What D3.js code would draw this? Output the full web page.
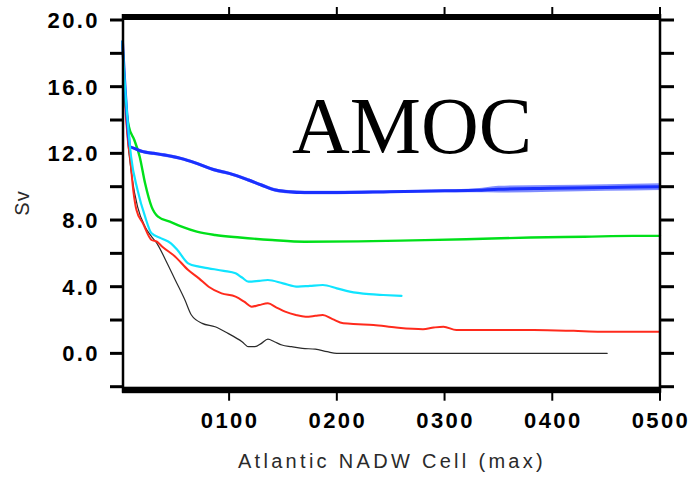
<!DOCTYPE html>
<html>
<head>
	<title>AMOC</title>
	<style>
	body {
	  margin: 0;
	  background: #fff;
	}
	.tick-label {
	  font: bold 22px "Liberation Sans", Arial, sans-serif;
	  letter-spacing: 2.4px;
	  fill: #000;
	}
	.axis-title {
	  font: 20px "Liberation Sans", Arial, sans-serif;
	  letter-spacing: 3.3px;
	  fill: #2a2a2a;
	}
	.line {
	  fill: none;
	  stroke-linejoin: round;
	  stroke-linecap: round;
	}
	</style>
	<script src="https://cdnjs.cloudflare.com/ajax/libs/d3/7.8.5/d3.min.js"></script>
</head>
<body>
	<script>
		// time axis (model years) and tick labels
		var xTicks = [100, 200, 300, 400, 500];
		var yTicks = [0, 4, 8, 12, 16, 20];
		var yMinorTicks = [-2, 2, 6, 10, 14, 18];

		// blue run
		var blueX = [1, 3, 6, 8, 12, 20, 30, 40, 55, 70, 87, 100, 118, 130, 143, 155, 170, 200, 250, 300, 330, 350, 400, 450, 500];
		var blueSv = [18.7, 16.4, 13.6, 12.4, 12.3, 12.1, 12.0, 11.9, 11.7, 11.4, 11.0, 10.8, 10.4, 10.1, 9.8, 9.7, 9.65, 9.65, 9.7, 9.75, 9.78, 9.85, 9.9, 9.95, 10.0];
		var blueSpread = [0, 0, 0, 0.05, 0.08, 0.1, 0.1, 0.1, 0.1, 0.1, 0.1, 0.1, 0.1, 0.1, 0.1, 0.1, 0.1, 0.1, 0.08, 0.08, 0.12, 0.2, 0.2, 0.2, 0.2];

		// green run
		var greenX = [1, 4, 7, 12, 17, 22, 28, 34, 45, 56, 70, 87, 110, 140, 170, 220, 270, 320, 380, 430, 475, 500];
		var greenSv = [18.7, 15.0, 13.6, 12.8, 11.8, 10.2, 8.8, 8.2, 7.9, 7.6, 7.3, 7.1, 6.95, 6.8, 6.7, 6.72, 6.78, 6.85, 6.95, 7.0, 7.05, 7.05];

		// cyan run
		var cyanX = [1, 3, 6, 9, 15, 22, 28, 37, 46, 52, 62, 72, 81, 95, 106, 112, 118, 128, 136, 150, 164, 175, 187, 200, 212, 230, 243, 260];
		var cyanSv = [18.7, 16.4, 13.8, 11.8, 9.8, 8.2, 7.2, 6.9, 6.6, 6.2, 5.4, 5.2, 5.1, 4.95, 4.8, 4.55, 4.3, 4.35, 4.4, 4.2, 4.0, 4.05, 4.1, 3.9, 3.7, 3.55, 3.5, 3.45];

		// red run
		var redX = [1, 3, 6, 8, 11, 14, 20, 28, 33, 38, 50, 62, 72, 81, 93, 106, 114, 121, 128, 136, 144, 152, 162, 171, 180, 187, 196, 206, 220, 234, 255, 280, 290, 299, 311, 340, 383, 420, 445, 500];
		var redSv = [18.7, 15.5, 12.8, 11.8, 9.8, 8.6, 7.8, 6.8, 6.7, 6.4, 5.8, 5.0, 4.5, 4.0, 3.6, 3.4, 3.1, 2.8, 2.9, 3.0, 2.75, 2.5, 2.3, 2.2, 2.25, 2.3, 2.05, 1.8, 1.75, 1.7, 1.55, 1.45, 1.55, 1.6, 1.4, 1.4, 1.4, 1.35, 1.3, 1.3];

		// black run
		var blackX = [1, 5, 10, 15, 22, 28, 33, 41, 50, 59, 65, 75, 87, 99, 112, 118, 124, 130, 136, 142, 149, 158, 168, 180, 191, 200, 300, 400, 451];
		var blackSv = [18.7, 13.5, 10.5, 8.8, 7.6, 7.0, 6.6, 5.6, 4.4, 3.2, 2.3, 1.8, 1.6, 1.2, 0.7, 0.4, 0.4, 0.6, 0.85, 0.7, 0.5, 0.4, 0.3, 0.25, 0.1, 0.0, 0.0, 0.0, 0.0];

		function zip(xs, ys){
			var out = [];
			for(var i = 0 ; i < xs.length ; i ++){
				out.push({x: xs[i], y: ys[i]});
			}
			return out;
		}

		function draw(){
			var width = 691, height = 477;
			var left = 123, right = 660, top = 20, bottom = 386.7;

			var svg = d3.select("body").append("svg")
			    .attr("width", width)
			    .attr("height", height);

			var x = d3.scaleLinear()
			    .domain([1.5, 500])
			    .range([left, right]);

			var y = d3.scaleLinear()
			    .domain([-2, 20])
			    .range([bottom, top]);

			var line = d3.line()
			    .curve(d3.curveMonotoneX)
			    .x(function(d) { return x(d.x); })
			    .y(function(d) { return y(d.y); });

			// title inside the plot
			svg.append("text")
			    .attr("x", 292)
			    .attr("y", 153)
			    .style("font-family", "'Liberation Serif', 'Times New Roman', serif")
			    .style("font-size", "80px")
			    .attr("fill", "#000")
			    .text("AMOC");

			// series, back to front
			var series = [
				{data: zip(blackX, blackSv), color: "#2a2a2a", w: 1.2},
				{data: zip(redX, redSv), color: "#ff2a1c", w: 2},
				{data: zip(greenX, greenSv), color: "#00e01a", w: 2.4},
				{data: zip(blueX, blueSv), color: "#1a30ff", w: 3},
				{data: zip(cyanX, cyanSv), color: "#10e4ff", w: 2.2}
			];

			// noisy envelope of the blue run
			var blueBand = [];
			for(var i = 0 ; i < blueX.length ; i ++){
				blueBand.push({x: blueX[i], lo: blueSv[i] - blueSpread[i], hi: blueSv[i] + blueSpread[i]});
			}
			var band = d3.area()
			    .curve(d3.curveMonotoneX)
			    .x(function(d) { return x(d.x); })
			    .y0(function(d) { return y(d.lo); })
			    .y1(function(d) { return y(d.hi); });

			series.forEach(function(s){
				if (s.color == "#1a30ff") {
					svg.append("path")
					    .datum(blueBand)
					    .attr("d", band)
					    .attr("fill", "#4a5cff")
					    .attr("opacity", 0.7);
				}
				svg.append("path")
				    .datum(s.data)
				    .attr("class", "line")
				    .attr("d", line)
				    .attr("stroke", s.color)
				    .attr("stroke-width", s.w);
			});

			// frame: thin sides, heavy top and bottom bars
			svg.append("line")
			    .attr("x1", left).attr("x2", left)
			    .attr("y1", top - 6).attr("y2", bottom + 6)
			    .attr("stroke", "#000").attr("stroke-width", 2.5);
			svg.append("line")
			    .attr("x1", right).attr("x2", right)
			    .attr("y1", top - 6).attr("y2", bottom + 6)
			    .attr("stroke", "#000").attr("stroke-width", 2.5);
			svg.append("rect")
			    .attr("x", left - 1).attr("y", top - 6)
			    .attr("width", right - left + 2).attr("height", 6)
			    .attr("fill", "#000");
			svg.append("rect")
			    .attr("x", left - 1).attr("y", bottom)
			    .attr("width", right - left + 2).attr("height", 6.5)
			    .attr("fill", "#000");

			// x ticks top and bottom
			xTicks.forEach(function(t){
				svg.append("line")
				    .attr("x1", x(t)).attr("x2", x(t))
				    .attr("y1", top - 6).attr("y2", top - 13)
				    .attr("stroke", "#000").attr("stroke-width", 2);
				svg.append("line")
				    .attr("x1", x(t)).attr("x2", x(t))
				    .attr("y1", bottom + 6).attr("y2", bottom + 14)
				    .attr("stroke", "#000").attr("stroke-width", 2);
				svg.append("text")
				    .attr("class", "tick-label")
				    .attr("x", x(t) + 1)
				    .attr("y", 428)
				    .attr("text-anchor", "middle")
				    .text(d3.format("04d")(t));
			});

			// y ticks left and right
			yTicks.concat(yMinorTicks).forEach(function(t){
				svg.append("line")
				    .attr("x1", left - 13).attr("x2", left)
				    .attr("y1", y(t)).attr("y2", y(t))
				    .attr("stroke", "#000").attr("stroke-width", 3);
				svg.append("line")
				    .attr("x1", right).attr("x2", right + 14)
				    .attr("y1", y(t)).attr("y2", y(t))
				    .attr("stroke", "#000").attr("stroke-width", 3);
			});
			yTicks.forEach(function(t){
				svg.append("text")
				    .attr("class", "tick-label")
				    .attr("x", 100)
				    .attr("y", y(t) + 8)
				    .attr("text-anchor", "end")
				    .text(d3.format(".1f")(t));
			});

			// axis titles
			svg.append("text")
			    .attr("class", "axis-title")
			    .attr("x", 392)
			    .attr("y", 468)
			    .attr("text-anchor", "middle")
			    .text("Atlantic NADW Cell (max)");

			svg.append("text")
			    .attr("class", "axis-title")
			    .attr("transform", "translate(29,203) rotate(-90)")
			    .attr("text-anchor", "middle")
			    .style("letter-spacing", "1px")
			    .text("Sv");
		}

		draw();
	</script>
</body>
</html>
